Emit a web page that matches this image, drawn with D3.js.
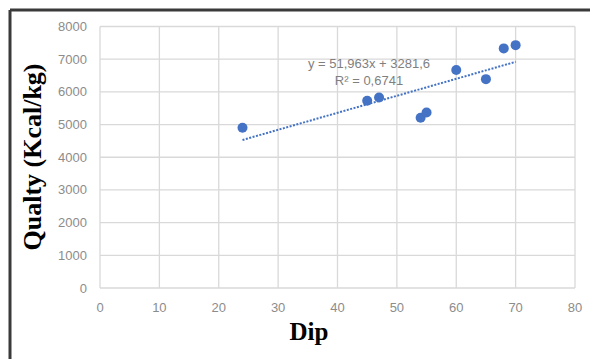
<!DOCTYPE html>
<html>
<head>
<meta charset="utf-8">
<script src="https://cdn.jsdelivr.net/npm/d3@7"></script>
<style>
  body { margin: 0; background: #fff; }
  svg { display: block; }
</style>
</head>
<body>
<svg id="chart" width="590" height="359"></svg>
<script>
// data
const dip = [24, 45, 47, 54, 55, 60, 65, 68, 70];
const quality = [4900, 5730, 5830, 5210, 5370, 6670, 6390, 7330, 7430];
const xTicks = [0, 10, 20, 30, 40, 50, 60, 70, 80];
const yTicks = [0, 1000, 2000, 3000, 4000, 5000, 6000, 7000, 8000];
const slope = 51.963;
const intercept = 3281.6;
const eqLines = ['y = 51,963x + 3281,6', 'R² = 0,6741'];

const svg = d3.select('#chart');

const x = d3.scaleLinear().domain([0, 80]).range([100, 575]);
const y = d3.scaleLinear().domain([0, 8000]).range([288, 26.5]);

// outer frame (top + left only visible)
svg.append('line').attr('x1', 10).attr('x2', 590).attr('y1', 10).attr('y2', 10)
  .attr('stroke', '#3a3a3a').attr('stroke-width', 3);
svg.append('line').attr('x1', 10).attr('x2', 10).attr('y1', 10).attr('y2', 359)
  .attr('stroke', '#3a3a3a').attr('stroke-width', 3);

// gridlines
const grid = svg.append('g').attr('stroke', '#d9d9d9').attr('stroke-width', 1.3);
grid.selectAll('line.v').data(xTicks).enter().append('line')
  .attr('x1', d => x(d)).attr('x2', d => x(d))
  .attr('y1', y(0)).attr('y2', y(8000));
grid.selectAll('line.h').data(yTicks).enter().append('line')
  .attr('x1', x(0)).attr('x2', x(80))
  .attr('y1', d => y(d)).attr('y2', d => y(d));

// tick labels
const tickFont = '"Liberation Sans", Arial, sans-serif';
svg.append('g').selectAll('text').data(yTicks).enter().append('text')
  .attr('x', 87).attr('y', d => y(d) + 4.5)
  .attr('text-anchor', 'end')
  .attr('font-family', tickFont).attr('font-size', 13)
  .attr('fill', '#8c8c8c')
  .text(d => d);
svg.append('g').selectAll('text').data(xTicks).enter().append('text')
  .attr('x', d => x(d)).attr('y', 312)
  .attr('text-anchor', 'middle')
  .attr('font-family', tickFont).attr('font-size', 13)
  .attr('fill', '#8c8c8c')
  .text(d => d);

// trendline
const xmin = d3.min(dip), xmax = d3.max(dip);
svg.append('line')
  .attr('x1', x(xmin)).attr('y1', y(slope * xmin + intercept))
  .attr('x2', x(xmax)).attr('y2', y(slope * xmax + intercept))
  .attr('stroke', '#4472c4').attr('stroke-width', 2)
  .attr('stroke-dasharray', '2,1.5');

// points
svg.append('g').selectAll('circle').data(dip).enter().append('circle')
  .attr('cx', d => x(d))
  .attr('cy', (d, i) => y(quality[i]))
  .attr('r', 5)
  .attr('fill', '#4472c4');

// equation label
svg.append('g').selectAll('text').data(eqLines).enter().append('text')
  .attr('x', 369).attr('y', (d, i) => 68 + i * 17)
  .attr('text-anchor', 'middle')
  .attr('font-family', tickFont).attr('font-size', 13)
  .attr('fill', '#7f7f7f')
  .text(d => d);

// axis titles
const titleFont = '"Liberation Serif", "Times New Roman", serif';
svg.append('text')
  .attr('x', 309).attr('y', 340)
  .attr('text-anchor', 'middle')
  .attr('font-family', titleFont).attr('font-weight', 'bold').attr('font-size', 25)
  .attr('fill', '#000')
  .text('Dip');
svg.append('text')
  .attr('transform', 'translate(41,157) rotate(-90)')
  .attr('text-anchor', 'middle')
  .attr('font-family', titleFont).attr('font-weight', 'bold').attr('font-size', 26)
  .attr('fill', '#000')
  .text('Qualty (Kcal/kg)');
</script>
</body>
</html>
